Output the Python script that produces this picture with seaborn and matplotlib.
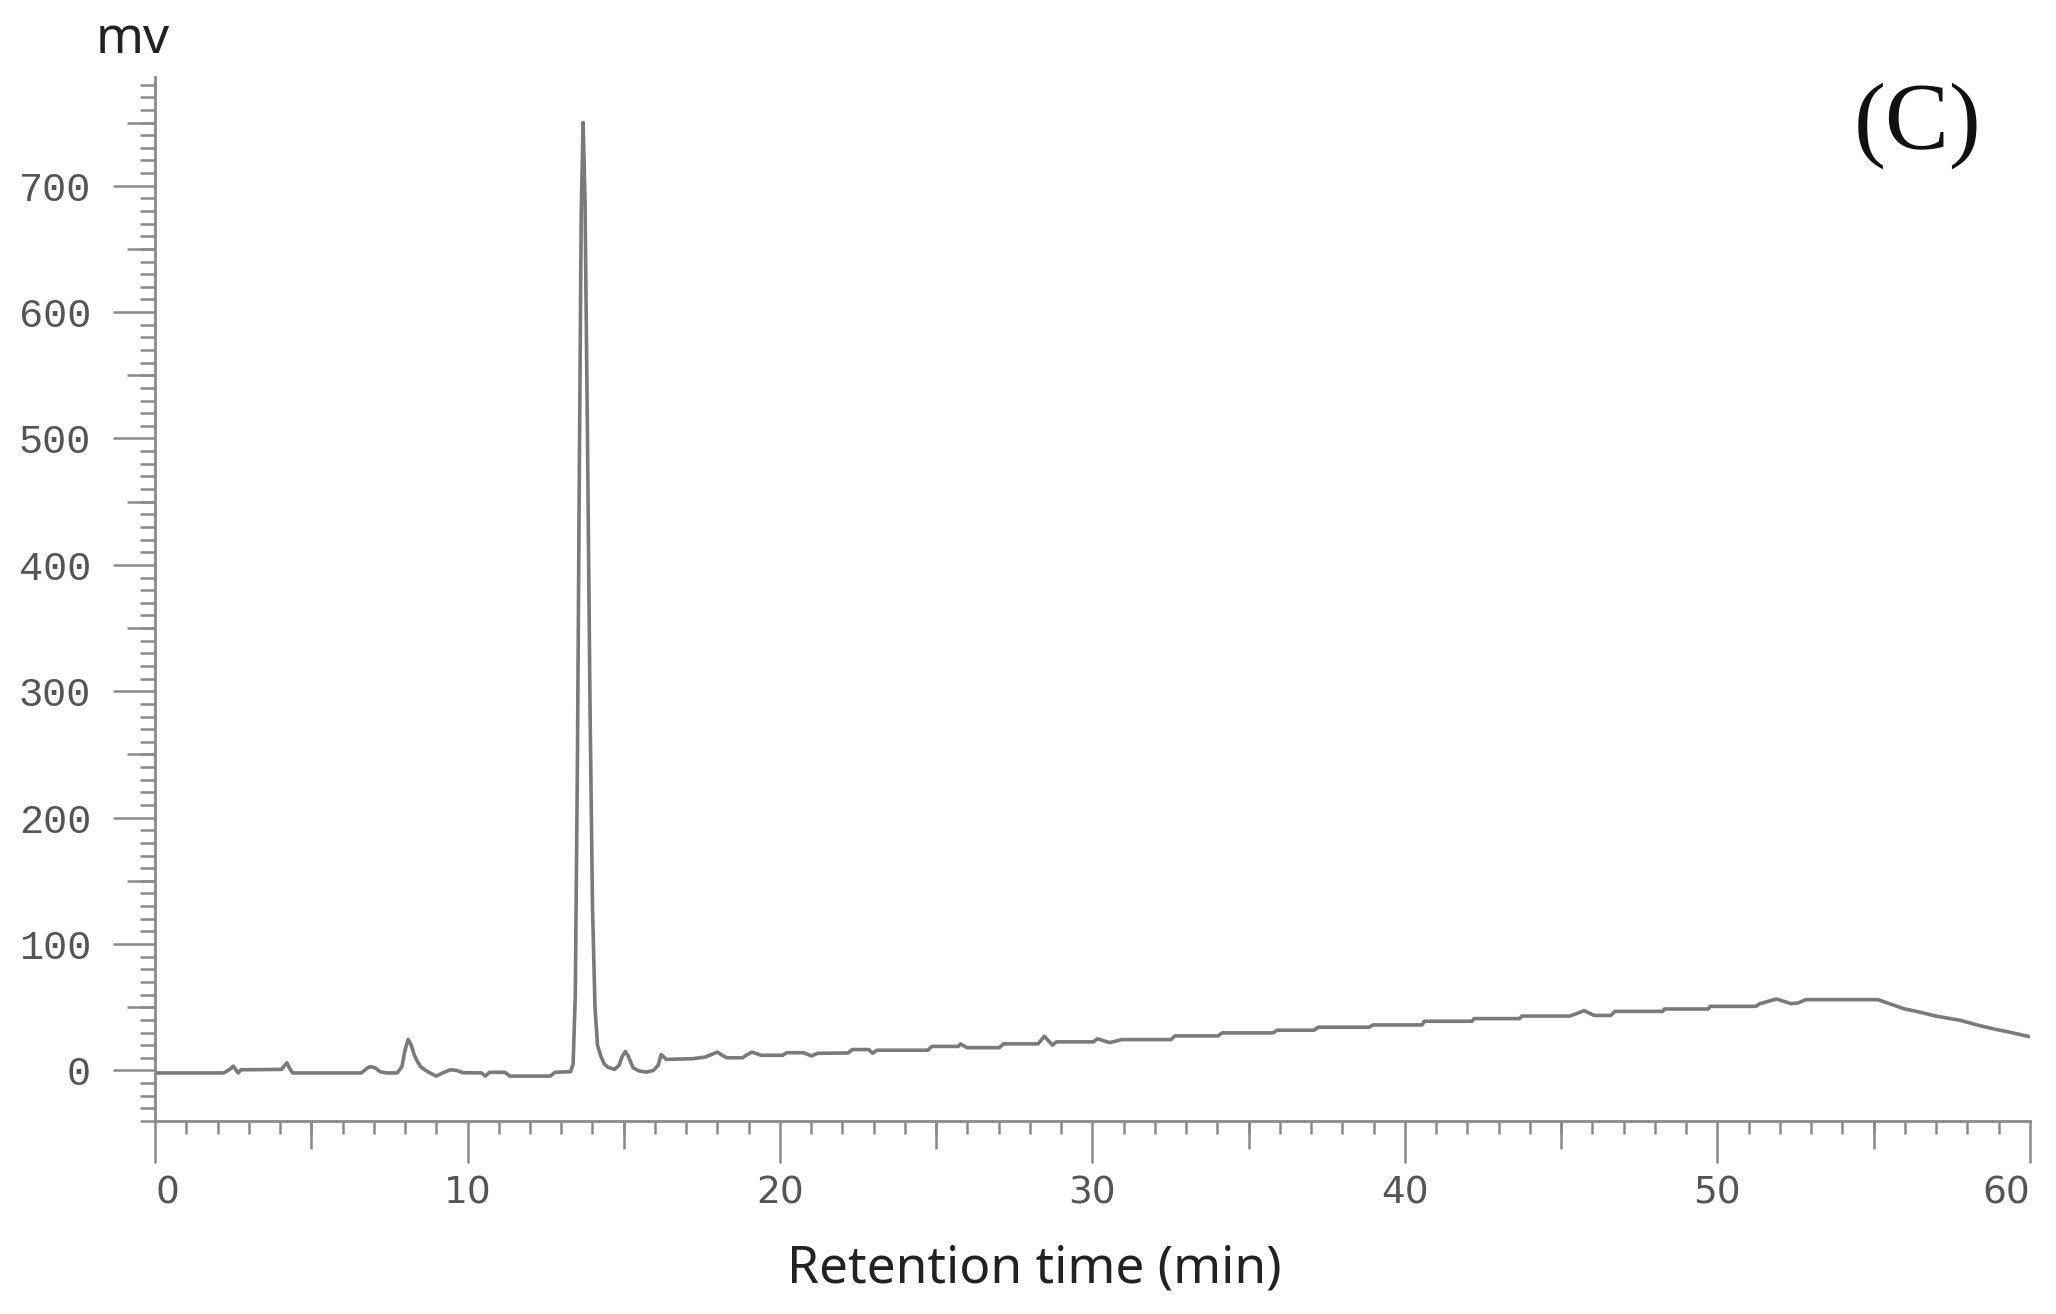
import numpy as np
import pandas as pd
import matplotlib
matplotlib.use("Agg")
import matplotlib.pyplot as plt
from matplotlib.ticker import MultipleLocator, FixedLocator
import seaborn as sns

# ─── DATA ────────────────────────────────────────────────────────────────────
rt_min = [
    0.0, 2.2, 2.4, 2.5, 2.6, 2.66, 2.75, 4.05, 4.15, 4.22, 4.3, 4.4,
    6.6, 6.8, 6.9, 7.05, 7.2, 7.4, 7.75, 7.9, 8.0, 8.1, 8.2, 8.3, 8.4, 8.5,
    8.6, 8.8, 9.0, 9.2, 9.45, 9.65, 9.85, 10.45, 10.57, 10.7, 11.2, 11.35,
    12.65, 12.8, 13.3, 13.38, 13.45, 13.52, 13.58, 13.64, 13.70, 13.76,
    13.84, 13.92, 14.00, 14.08, 14.16, 14.27, 14.38, 14.5, 14.7, 14.85,
    14.95, 15.05, 15.15, 15.3, 15.5, 15.73, 15.95, 16.1, 16.2, 16.36, 17.2,
    17.6, 17.85, 18.0, 18.15, 18.3, 18.8, 18.95, 19.1, 19.4, 20.09, 20.22,
    20.75, 21.01, 21.2, 22.18, 22.31, 22.84, 22.97, 23.1, 24.73, 24.86,
    25.71, 25.78, 25.98, 27.02, 27.15, 28.26, 28.46, 28.72, 28.85, 30.03,
    30.16, 30.55, 30.94, 32.51, 32.64, 34.02, 34.15, 35.78, 35.91, 37.09,
    37.22, 38.85, 38.98, 40.55, 40.62, 42.15, 42.21, 43.67, 43.74, 45.27,
    45.5, 45.73, 46.06, 46.59, 46.72, 48.25, 48.31, 49.71, 49.77, 51.23,
    51.36, 51.89, 52.36, 52.6, 52.82, 55.14, 55.52, 55.97, 56.5, 56.99,
    57.78, 58.3, 58.92, 59.4, 60.0,
]
signal_mv = [
    -2, -2, 1, 3.4, 0, -2, 0.5, 0.8, 4, 6, 2, -2,
    -2, 2, 3, 2, -1, -2, -2, 3, 16, 24.5, 20, 12, 7, 3,
    1, -2, -4.5, -2, 0.5, 0, -1.8, -2, -4.5, -1.5, -1.5, -4.5,
    -4.5, -1.5, -1, 5, 60, 250, 480, 680, 750, 690,
    500, 290, 130, 50, 20, 11, 5, 2.5, 0.8, 4,
    11, 15, 11, 2, -0.5, -1.3, 0, 4, 12.6, 8.7, 9.3,
    10.5, 13, 14.5, 12, 10, 10, 12.5, 14.5, 12, 12, 14,
    14, 11.5, 13.5, 13.8, 16.5, 16.5, 13.5, 16, 16, 19,
    19, 21, 18, 18, 21, 21, 27, 20, 22.6, 22.6,
    25, 22, 24.4, 24.4, 27.3, 27.3, 29.7, 29.7, 31.8, 31.8,
    34.2, 34.2, 36, 36, 38.9, 38.9, 41, 41, 43, 43,
    45, 47.3, 43.5, 43.5, 46.7, 46.7, 48.6, 48.6, 50.7, 50.7,
    52.8, 56.5, 52.8, 53.5, 56, 56, 52.7, 48.8, 46, 43,
    39.6, 36, 32.4, 30, 26.6,
]

x_major = [0, 10, 20, 30, 40, 50, 60]
x_mid = [5, 15, 25, 35, 45, 55]
y_major = [0, 100, 200, 300, 400, 500, 600, 700]
y_mid = [50, 150, 250, 350, 450, 550, 650, 750]

df = pd.DataFrame({"rt": rt_min, "mv": signal_mv})

# ─── STYLE ───────────────────────────────────────────────────────────────────
sns.set_theme(style="white")
plt.rcParams["font.family"] = ["Noto Sans", "DejaVu Sans"]

axis_grey = "#8a8a8a"
text_grey = "#555555"

fig = plt.figure(figsize=(20.56, 13.14), dpi=100)
ax = fig.add_axes([0.0754, 0.1469, 0.9119, 0.7945])

sns.lineplot(data=df, x="rt", y="mv", sort=False, color="#7a7a7a",
             linewidth=2.6, ax=ax)

ax.set_xlim(0, 60)
ax.set_ylim(-40, 786)

for side in ["top", "right"]:
    ax.spines[side].set_visible(False)
for side in ["left", "bottom"]:
    ax.spines[side].set_color(axis_grey)
    ax.spines[side].set_linewidth(2.0)

ax.xaxis.set_major_locator(FixedLocator(x_major))
ax.xaxis.set_minor_locator(MultipleLocator(1))
ax.yaxis.set_major_locator(FixedLocator(y_major))
ax.yaxis.set_minor_locator(MultipleLocator(10))

# seaborn "white" switches the ticks off; turn them back on
ax.tick_params(axis="x", which="both", bottom=True, top=False)
ax.tick_params(axis="y", which="both", left=True, right=False)
ax.tick_params(axis="x", which="major", direction="out", length=30, width=1.8,
               color=axis_grey, pad=9, labelsize=27, labelcolor=text_grey)
ax.tick_params(axis="x", which="minor", direction="out", length=9.5, width=1.8,
               color=axis_grey)
ax.tick_params(axis="y", which="major", direction="out", length=30, width=1.8,
               color=axis_grey, pad=16, labelsize=29, labelcolor=text_grey)
ax.tick_params(axis="y", which="minor", direction="out", length=10.5, width=1.8,
               color=axis_grey)

ax.set_xticklabels([str(v) for v in x_major], family="DejaVu Sans")
ax.set_yticklabels([str(v) for v in y_major], family="Liberation Mono")
xlabels = ax.get_xticklabels()
xlabels[0].set_ha("left")
xlabels[-1].set_ha("right")

# medium-length ticks at the 5 / 50 marks
secx = ax.secondary_xaxis("bottom")
secx.set_xticks(x_mid)
secx.tick_params(bottom=True, direction="out", length=20, width=1.8,
                 color=axis_grey, labelbottom=False)
secx.spines["bottom"].set_visible(False)

secy = ax.secondary_yaxis("left")
secy.set_yticks(y_mid)
secy.tick_params(left=True, direction="out", length=20, width=1.8,
                 color=axis_grey, labelleft=False)
secy.spines["left"].set_visible(False)

# labels
ax.set_xlabel("Retention time (min)", fontsize=37, color="#222222", va="center")
ax.xaxis.set_label_coords(0.469, -0.142)
ax.set_ylabel("mv", fontsize=37, color="#222222", rotation=0,
              ha="center", va="center")
ax.yaxis.set_label_coords(-0.012, 1.036)

ax.text(0.940, 0.953, "(C)", transform=ax.transAxes, ha="center", va="center",
        fontsize=69, family="Liberation Serif", color="#111111")

fig.savefig("out.png", dpi=100, facecolor="white")
